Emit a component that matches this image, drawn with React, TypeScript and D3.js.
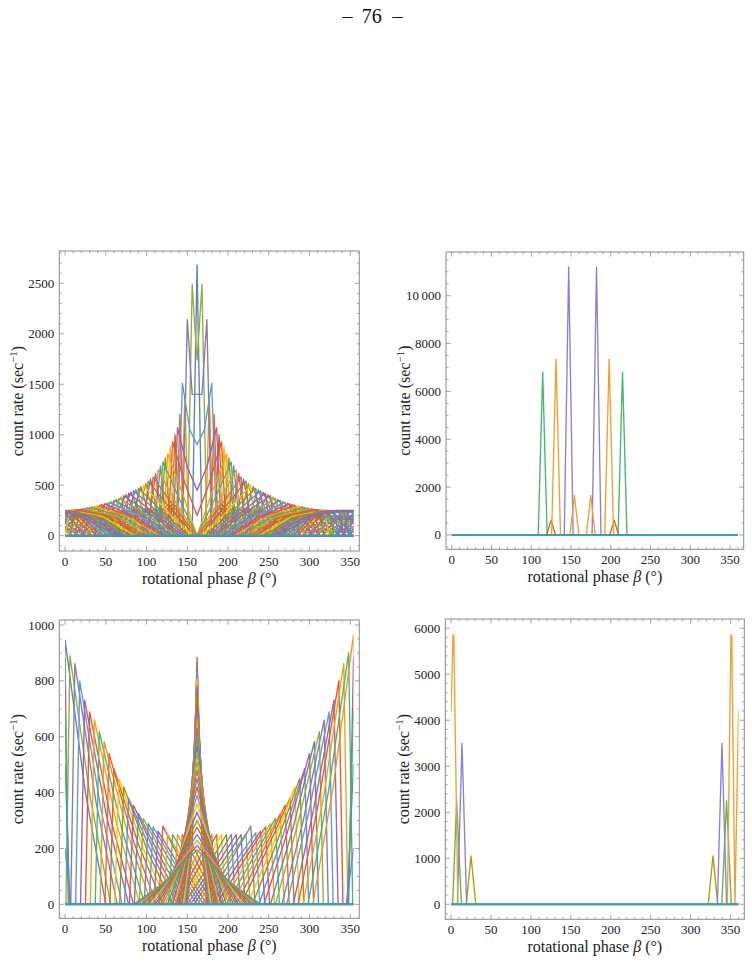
import React from "react";
import * as d3 from "d3";

type Pt = [number, number];

// Mathematica-like default palette
const PALETTE = [
  "#5e81b5", "#e19c24", "#8fb032", "#eb6235", "#8778b3", "#c56e1a", "#5d9ec7",
  "#ffbf00", "#a5609d", "#929600", "#e95536", "#6685d9", "#f89f13", "#bc5b80", "#47b66d",
];
const BASE_COLOR = "#3f9db3";

// ---------- top-left: horns mirrored about 162 deg ----------
const tlCenter = 162;
const tlHornOffset = [0, 6, 12, 18, 24, 30, 36, 42, 48, 54, 60, 66, 72, 78, 84, 90, 96, 102, 108, 114, 120, 126, 132, 138, 144, 150, 156, 162, 168, 174, 180];
const tlHornRate = [2680, 2490, 2140, 1510, 1070, 930, 810, 730, 650, 580, 540, 500, 470, 445, 420, 395, 370, 350, 330, 315, 300, 290, 280, 265, 258, 255, 252, 250, 250, 250, 250];
const tlKneeRate = [2680, 2100, 1400, 1050, 680, 520, 420, 350, 300, 270, 250, 235, 225, 220, 215, 210, 205, 200, 195, 190, 190, 190, 190, 190, 190, 190, 190, 190, 190, 190, 190];
const tlTailLength = [0, 6, 12, 18, 24, 30, 36, 42, 48, 54, 58, 60, 62, 64, 66, 68, 70, 72, 74, 76, 78, 80, 80, 80, 80, 80, 80, 80, 80, 80, 80];
const tlTailRate = [2680, 1740, 1400, 900, 450, 200, 0, 0, 0, 0, 0, 0, 0, 0, 0, 0, 0, 0, 0, 0, 0, 0, 0, 0, 0, 0, 0, 0, 0, 0, 0];
// second family: rounded arches between the horns
const tlArchOffset = [15, 21, 27, 33, 39, 45, 51, 57, 63, 69, 75, 81, 87, 93, 99, 105, 111, 117, 123, 129, 135, 141, 147, 153, 159, 165, 171, 177];
const tlArchRate = [1400, 1200, 1000, 880, 770, 690, 615, 560, 520, 485, 455, 430, 405, 385, 360, 340, 322, 308, 295, 285, 275, 265, 258, 254, 250, 250, 250, 250];
const tlArchHalf = [6, 6, 7, 8, 9, 10, 12, 14, 16, 18, 20, 22, 24, 26, 28, 30, 32, 34, 36, 38, 40, 42, 44, 46, 48, 50, 52, 54];
const tlArchShoulder = [500, 420, 360, 330, 300, 280, 265, 250, 240, 235, 230, 225, 220, 215, 210, 205, 200, 200, 200, 200, 205, 210, 215, 220, 225, 230, 235, 240];
// third family: low, wide arches filling the lower fan
const tlLowOffset = [24, 30, 36, 42, 48, 54, 60, 66, 72, 78, 84, 90, 96, 102, 108, 114, 120, 126, 132, 138, 144, 150, 156, 162, 168, 174];
const tlLowRate = [300, 300, 290, 280, 275, 270, 265, 260, 255, 250, 245, 240, 235, 230, 225, 220, 215, 210, 205, 200, 200, 200, 200, 200, 200, 200];
const tlLowHalf = [20, 22, 24, 26, 28, 30, 32, 34, 36, 38, 40, 42, 44, 46, 48, 50, 52, 54, 56, 58, 60, 62, 64, 66, 68, 70];
const tlLowShoulder = [170, 175, 175, 175, 180, 180, 185, 185, 185, 185, 185, 180, 180, 175, 175, 170, 170, 165, 160, 155, 155, 155, 155, 155, 155, 155];

// ---------- top-right: isolated spikes mirrored about 164.6 deg ----------
const trCenter = 164.6;
const trSpikePhase = [114.4, 124.9, 131.2, 147.1, 154.3];
const trSpikeRate = [6800, 620, 7350, 11200, 1650];
const trSpikeColor = ["#47b66d", "#c56e1a", "#f0a030", "#8b7fd8", "#f0a030"];

// ---------- bottom-left: left arm (tails run right), right arm (tails run left), central fan ----------
const blLeftHorn = [0, 6, 12, 18, 24, 30, 36, 42, 48, 54, 60, 66, 72, 78, 84, 90, 96, 102, 108, 114, 120, 126, 132, 138, 144, 150];
const blLeftRate = [946, 890, 862, 800, 731, 689, 660, 618, 582, 540, 486, 450, 420, 380, 355, 325, 307, 289, 277, 262, 280, 250, 250, 250, 250, 250];
const blLeftKnee = [400, 380, 365, 340, 315, 295, 280, 265, 250, 235, 215, 200, 185, 172, 162, 152, 145, 140, 135, 130, 126, 124, 122, 120, 120, 120];
const blLeftTail = [50, 50, 52, 52, 54, 54, 56, 56, 58, 58, 60, 60, 60, 60, 60, 60, 60, 60, 58, 56, 54, 52, 50, 48, 46, 44];
const blRightHorn = [174, 180, 186, 192, 198, 204, 210, 216, 222, 228, 234, 240, 246, 252, 258, 264, 270, 276, 282, 288, 294, 300, 306, 312, 318, 324, 330, 336, 342, 348, 354];
const blRightRate = [250, 250, 250, 250, 250, 250, 250, 250, 252, 280, 256, 262, 277, 289, 307, 325, 355, 380, 420, 450, 486, 540, 582, 618, 660, 689, 731, 800, 862, 900, 965];
const blRightKnee = [120, 120, 120, 120, 120, 120, 122, 124, 126, 130, 132, 135, 140, 145, 152, 162, 172, 185, 200, 215, 235, 250, 265, 280, 295, 315, 340, 365, 380, 400, 420];
const blRightTail = [44, 46, 48, 50, 52, 54, 56, 58, 60, 60, 60, 60, 60, 60, 60, 60, 60, 60, 58, 58, 56, 56, 54, 54, 52, 52, 50, 50, 50, 50, 50];
// curves crossing the 0/354 seam
const blEdgeStart = [880, 690, 500, 200];
const blEdgeEnd = [880, 700, 500, 200];
const blEdgeColor = ["#a5609d", "#47b66d", "#3f9db3", "#6685d9"];
const blFanCenter = 162;
const blFanRate = [884, 870, 850, 830, 805, 780, 750, 720, 690, 660, 630, 600, 570, 540, 510, 480, 450, 420, 390, 360, 330, 300, 275, 250, 230, 210, 195];
const blFanKnee = [210, 205, 200, 195, 190, 185, 180, 175, 170, 165, 160, 155, 150, 145, 140, 135, 130, 125, 120, 115, 110, 105, 100, 95, 90, 85, 80];
const blFanWidth = [12, 13, 14, 15, 17, 19, 21, 23, 25, 27, 30, 33, 36, 39, 42, 45, 48, 51, 54, 57, 60, 63, 66, 69, 72, 75, 78];

// ---------- bottom-right: spikes near 0/360 ----------
const brOrange: Pt[] = [[0, 4200], [2.5, 5850], [3.5, 5850], [8.5, 0], [346, 0], [350.5, 5850], [351.5, 5850], [355.5, 0], [360, 4200]];
const brGreen: Pt[] = [[2, 0], [7, 2250], [13, 0], [339, 0], [345, 2250], [351, 0]];
const brPurple: Pt[] = [[8, 0], [13.7, 3500], [19.5, 0], [333.5, 0], [339.2, 3500], [345, 0]];
const brOlive: Pt[] = [[19, 0], [25, 1050], [31, 0], [322, 0], [328, 1050], [334, 0]];

type Curve = { pts: Pt[]; color: string };

function mirror(left: Pt[], center: number): Pt[] {
  const right = left.map(([x, y]) => [2 * center - x, y] as Pt).reverse();
  return [...left, ...right];
}

function hornCurve(center: number, horn: number, rate: number, knee: number, tail: number, tailRate: number, step: number): Pt[] {
  const end = Math.min(horn + tail, center);
  const left: Pt[] = [[horn - step, 0], [horn, rate], [(horn + end) / 2, knee], [end, end === center ? tailRate : 0]];
  return mirror(left, center);
}

function archCurve(center: number, peak: number, rate: number, half: number, shoulder: number): Pt[] {
  const left: Pt[] = [[peak - half, 0], [peak - half / 2, shoulder], [peak, rate], [peak + half / 2, shoulder], [peak + half, 0]];
  return mirror(left, center);
}

const tlCurves: Curve[] = [];
tlLowOffset.forEach((d, i) => {
  tlCurves.push({
    pts: archCurve(tlCenter, tlCenter - d - 3, tlLowRate[i], tlLowHalf[i], tlLowShoulder[i]),
    color: PALETTE[(3 * i + 2) % PALETTE.length],
  });
});
tlHornOffset.forEach((d, i) => {
  tlCurves.push({
    pts: hornCurve(tlCenter, tlCenter - d, tlHornRate[i], tlKneeRate[i], tlTailLength[i], tlTailRate[i], 6),
    color: PALETTE[(2 * i) % PALETTE.length],
  });
  const j = tlArchOffset.indexOf(d + 15);
  if (j >= 0) {
    tlCurves.push({
      pts: archCurve(tlCenter, tlCenter - tlArchOffset[j], tlArchRate[j], tlArchHalf[j], tlArchShoulder[j]),
      color: PALETTE[(2 * i + 1) % PALETTE.length],
    });
  }
});

const trCurves: Curve[] = trSpikePhase.map((p, i) => ({
  pts: mirror([[p - 5.6, 0], [p, trSpikeRate[i]], [p + 5.6, 0]], trCenter),
  color: trSpikeColor[i],
}));

const blCurves: Curve[] = [];
blLeftHorn.forEach((h, i) => {
  const end = h + blLeftTail[i];
  blCurves.push({
    pts: [[h - 5, 0], [h, blLeftRate[i]], [(h + end) / 2, blLeftKnee[i]], [end, 0]],
    color: PALETTE[(2 * i) % PALETTE.length],
  });
});
blRightHorn.forEach((h, i) => {
  const end = h - blRightTail[i];
  blCurves.push({
    pts: [[end, 0], [(h + end) / 2, blRightKnee[i]], [h, blRightRate[i]], [h + 5, 0]],
    color: PALETTE[(2 * i + 1) % PALETTE.length],
  });
});
blFanRate.forEach((c, i) => {
  blCurves.push({
    pts: mirror([[blFanCenter - blFanWidth[i], 0], [blFanCenter - blFanWidth[i] / 2, blFanKnee[i]], [blFanCenter, c]], blFanCenter),
    color: PALETTE[(i + 3) % PALETTE.length],
  });
});
blEdgeStart.forEach((v, i) => {
  blCurves.push({
    pts: [[0, v], [4 + i, 0], [348 - i, 0], [354, blEdgeEnd[i]]],
    color: blEdgeColor[i],
  });
});

const brCurves: Curve[] = [
  { pts: brOlive, color: "#a8a000" },
  { pts: brGreen, color: "#6ab04c" },
  { pts: brPurple, color: "#8b7fd8" },
  { pts: brOrange, color: "#f0a030" },
];

type PanelSpec = {
  id: string;
  frame: [number, number, number, number]; // x0, x1, y0, y1
  xDomain: [number, number];
  yDomain: [number, number];
  dataEnd: number;
  yMajor: number[];
  yMinor: number;
  yFmt: (v: number) => string;
  curves: Curve[];
  wrap: boolean;
};

const X_MAJOR = [0, 50, 100, 150, 200, 250, 300, 350];

const panels: PanelSpec[] = [
  {
    id: "tl", frame: [59.3, 359.3, 251, 551], xDomain: [-7.08, 361.08], yDomain: [-152, 2820], dataEnd: 354,
    yMajor: [0, 500, 1000, 1500, 2000, 2500], yMinor: 100, yFmt: (v) => String(v), curves: tlCurves, wrap: true,
  },
  {
    id: "tr", frame: [446, 743.7, 252, 549.3], xDomain: [-7.2, 367.2], yDomain: [-598, 11826], dataEnd: 360,
    yMajor: [0, 2000, 4000, 6000, 8000, 10000], yMinor: 500,
    yFmt: (v) => (v >= 10000 ? "10\u2009000" : String(v)), curves: trCurves, wrap: false,
  },
  {
    id: "bl", frame: [59.3, 359.3, 620, 918.3], xDomain: [-7.08, 361.08], yDomain: [-50, 1018], dataEnd: 354,
    yMajor: [0, 200, 400, 600, 800, 1000], yMinor: 50, yFmt: (v) => String(v), curves: blCurves, wrap: false,
  },
  {
    id: "br", frame: [445.3, 744.3, 619, 919.3], xDomain: [-7.2, 367.2], yDomain: [-326, 6200], dataEnd: 360,
    yMajor: [0, 1000, 2000, 3000, 4000, 5000, 6000], yMinor: 200, yFmt: (v) => String(v), curves: brCurves, wrap: false,
  },
];

const FONT = "'Liberation Serif', 'Times New Roman', serif";

function Panel({ p }: { p: PanelSpec }) {
  const [x0, x1, y0, y1] = p.frame;
  const x = d3.scaleLinear().domain(p.xDomain).range([x0, x1]);
  const y = d3.scaleLinear().domain(p.yDomain).range([y1, y0]);
  const line = d3.line<Pt>().x((d) => x(d[0])).y((d) => y(d[1]));

  const shifts = p.wrap ? [-360, 0, 360] : [0];
  const xMinor = d3.range(-10, 370, 10).filter((v) => x(v) > x0 + 1 && x(v) < x1 - 1 && v % 50 !== 0);
  const yMinor = d3.range(Math.ceil(p.yDomain[0] / p.yMinor) * p.yMinor, p.yDomain[1], p.yMinor)
    .filter((v) => !p.yMajor.includes(v));
  const frameColor = "#8a8a8a";
  const MAJ = 4.5;
  const MIN = 2.5;

  return (
    <g>
      <defs>
        <clipPath id={`clip-${p.id}`}>
          <rect x={x(0)} y={y0} width={x(p.dataEnd) - x(0)} height={y1 - y0} />
        </clipPath>
      </defs>
      <g clipPath={`url(#clip-${p.id})`} fill="none" strokeWidth={1.35} strokeLinejoin="round">
        {p.curves.map((c, i) =>
          shifts.map((s) => {
            const pts: Pt[] = [[-1000, 0], ...c.pts.map(([a, b]) => [a + s, b] as Pt), [1000, 0]];
            return <path key={`${i}-${s}`} d={line(pts) || ""} stroke={c.color} />;
          })
        )}
        <path d={line([[0, 0], [p.dataEnd, 0]]) || ""} stroke={BASE_COLOR} strokeWidth={2.2} />
      </g>
      {/* frame */}
      <rect x={x0} y={y0} width={x1 - x0} height={y1 - y0} fill="none" stroke={frameColor} strokeWidth={1} />
      {/* x ticks */}
      {X_MAJOR.map((v) => (
        <g key={`xm${v}`} stroke={frameColor} strokeWidth={0.8}>
          <line x1={x(v)} x2={x(v)} y1={y1} y2={y1 - MAJ} />
          <line x1={x(v)} x2={x(v)} y1={y0} y2={y0 + MAJ} />
        </g>
      ))}
      {xMinor.map((v) => (
        <g key={`xn${v}`} stroke={frameColor} strokeWidth={0.7}>
          <line x1={x(v)} x2={x(v)} y1={y1} y2={y1 - MIN} />
          <line x1={x(v)} x2={x(v)} y1={y0} y2={y0 + MIN} />
        </g>
      ))}
      {p.yMajor.map((v) => (
        <g key={`ym${v}`} stroke={frameColor} strokeWidth={0.8}>
          <line x1={x0} x2={x0 + MAJ} y1={y(v)} y2={y(v)} />
          <line x1={x1} x2={x1 - MAJ} y1={y(v)} y2={y(v)} />
        </g>
      ))}
      {yMinor.map((v) => (
        <g key={`yn${v}`} stroke={frameColor} strokeWidth={0.7}>
          <line x1={x0} x2={x0 + MIN} y1={y(v)} y2={y(v)} />
          <line x1={x1} x2={x1 - MIN} y1={y(v)} y2={y(v)} />
        </g>
      ))}
      {/* tick labels */}
      <g fontFamily={FONT} fontSize={13} fill="#222">
        {X_MAJOR.map((v) => (
          <text key={`xl${v}`} x={x(v)} y={y1 + 14.5} textAnchor="middle">{v}</text>
        ))}
        {p.yMajor.map((v) => (
          <text key={`yl${v}`} x={x0 - 5} y={y(v) + 4.5} textAnchor="end">{p.yFmt(v)}</text>
        ))}
      </g>
      {/* axis labels */}
      <text x={(x0 + x1) / 2} y={y1 + 33} textAnchor="middle" fontFamily={FONT} fontSize={16} fill="#222">
        rotational phase <tspan fontStyle="italic">β</tspan> (°)
      </text>
      <text
        transform={`translate(${x0 - 36},${(y0 + y1) / 2}) rotate(-90)`}
        textAnchor="middle" fontFamily={FONT} fontSize={16} fill="#222"
      >
        count rate (sec<tspan dy={-6} fontSize={11}>−1</tspan><tspan dy={6}>)</tspan>
      </text>
    </g>
  );
}

export default function App() {
  return (
    <svg width={752} height={962} style={{ position: "absolute", left: 0, top: 0, background: "#fff" }}>
      <rect width={752} height={962} fill="#fff" />
      <g fontFamily={FONT} fontSize={20} fill="#111" textAnchor="middle">
        <text x={347.5} y={23}>–</text>
        <text x={371.7} y={23}>76</text>
        <text x={397.5} y={23}>–</text>
      </g>
      {panels.map((p) => (
        <Panel key={p.id} p={p} />
      ))}
    </svg>
  );
}
